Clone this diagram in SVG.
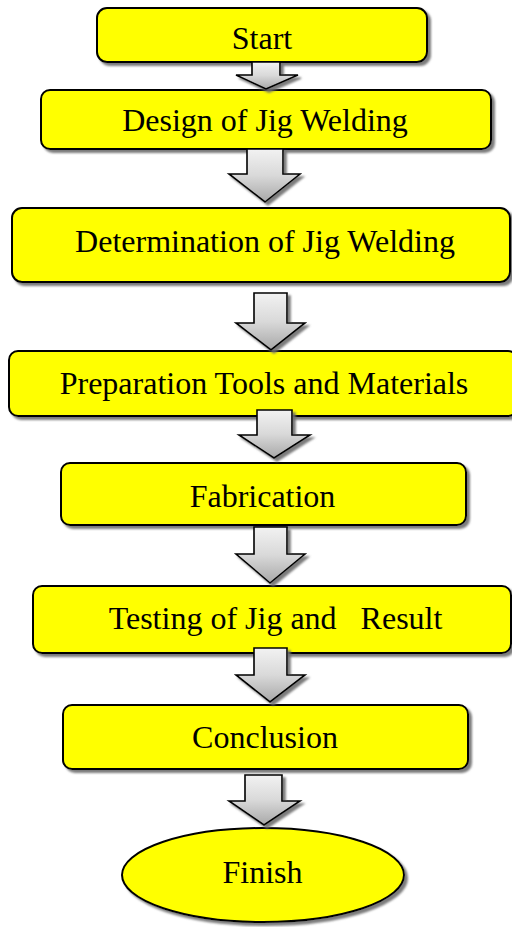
<svg xmlns="http://www.w3.org/2000/svg" width="512" height="927" viewBox="0 0 512 927">
  <defs>
    <filter id="shadow" x="-10%" y="-10%" width="130%" height="140%">
      <feGaussianBlur in="SourceAlpha" stdDeviation="1"/>
      <feOffset dx="3" dy="3" result="off"/>
      <feFlood flood-color="#6e6e6e" flood-opacity="0.9"/>
      <feComposite in2="off" operator="in"/>
      <feMerge>
        <feMergeNode/>
        <feMergeNode in="SourceGraphic"/>
      </feMerge>
    </filter>
    <linearGradient id="arrowFill" x1="0" y1="0" x2="0" y2="1">
      <stop offset="0" stop-color="#f2f2f2"/>
      <stop offset="0.5" stop-color="#d9d9d9"/>
      <stop offset="1" stop-color="#a8a8a8"/>
    </linearGradient>
  </defs>
  <style>
    .box { fill: #ffff00; stroke: #000; stroke-width: 2; filter: url(#shadow); }
    .arrow { fill: url(#arrowFill); stroke: #000; stroke-width: 1.6; stroke-linejoin: miter; filter: url(#shadow); }
    .label { font-size: 32px; fill: #000; text-anchor: middle; white-space: pre; }
  </style>

  <rect width="512" height="927" fill="#fff"/>

  <g id="start" font-family="'Liberation Serif', 'Times New Roman', serif">
    <rect class="box" x="97" y="8" width="330" height="54" rx="10"/>
    <text class="label" x="262" y="49">Start</text>
  </g>

  <g id="design" font-family="'Liberation Serif', 'Times New Roman', serif">
    <rect class="box" x="41" y="90" width="450" height="59" rx="9"/>
    <text class="label" x="265" y="131">Design of Jig Welding</text>
  </g>

  <g id="determination" font-family="'Liberation Serif', 'Times New Roman', serif">
    <rect class="box" x="12" y="208" width="498" height="74" rx="10"/>
    <text class="label" x="265" y="252">Determination of Jig Welding</text>
  </g>

  <g id="preparation" font-family="'Liberation Serif', 'Times New Roman', serif">
    <rect class="box" x="9" y="351" width="508" height="65" rx="9"/>
    <text class="label" x="264" y="394">Preparation Tools and Materials</text>
  </g>

  <g id="fabrication" font-family="'Liberation Serif', 'Times New Roman', serif">
    <rect class="box" x="61" y="463" width="405" height="62" rx="9"/>
    <text class="label" x="262.5" y="507">Fabrication</text>
  </g>

  <g id="testing" font-family="'Liberation Serif', 'Times New Roman', serif">
    <rect class="box" x="33" y="586" width="478" height="67" rx="9"/>
    <text class="label" x="275.5" y="629">Testing of Jig and   Result</text>
  </g>

  <g id="conclusion" font-family="'Liberation Serif', 'Times New Roman', serif">
    <rect class="box" x="63" y="705" width="405" height="64" rx="9"/>
    <text class="label" x="265" y="748">Conclusion</text>
  </g>

  <g id="finish" font-family="'Liberation Serif', 'Times New Roman', serif">
    <ellipse class="box" cx="263" cy="875" rx="141" ry="47"/>
    <text class="label" x="262.5" y="883">Finish</text>
  </g>

  <!-- block arrows between the steps -->
  <g id="connectors">
    <polygon class="arrow" points="252,62 280,62 280,75 298,75 266,89 236,75 252,75"/>
    <polygon class="arrow" points="247,149 283,149 283,174 300,174 265,202 229,174 247,174"/>
    <polygon class="arrow" points="254,293 287,293 287,323 305,323 271,350 236,323 254,323"/>
    <polygon class="arrow" points="257,410 292,410 292,435 310,435 274,458 239,435 257,435"/>
    <polygon class="arrow" points="254,527 287,527 287,554 305,554 270,583 236,554 254,554"/>
    <polygon class="arrow" points="254,648 287,648 287,675 305,675 270,702 236,675 254,675"/>
    <polygon class="arrow" points="245,775 282,775 282,801 300,801 264,825 229,801 245,801"/>
  </g>
</svg>
